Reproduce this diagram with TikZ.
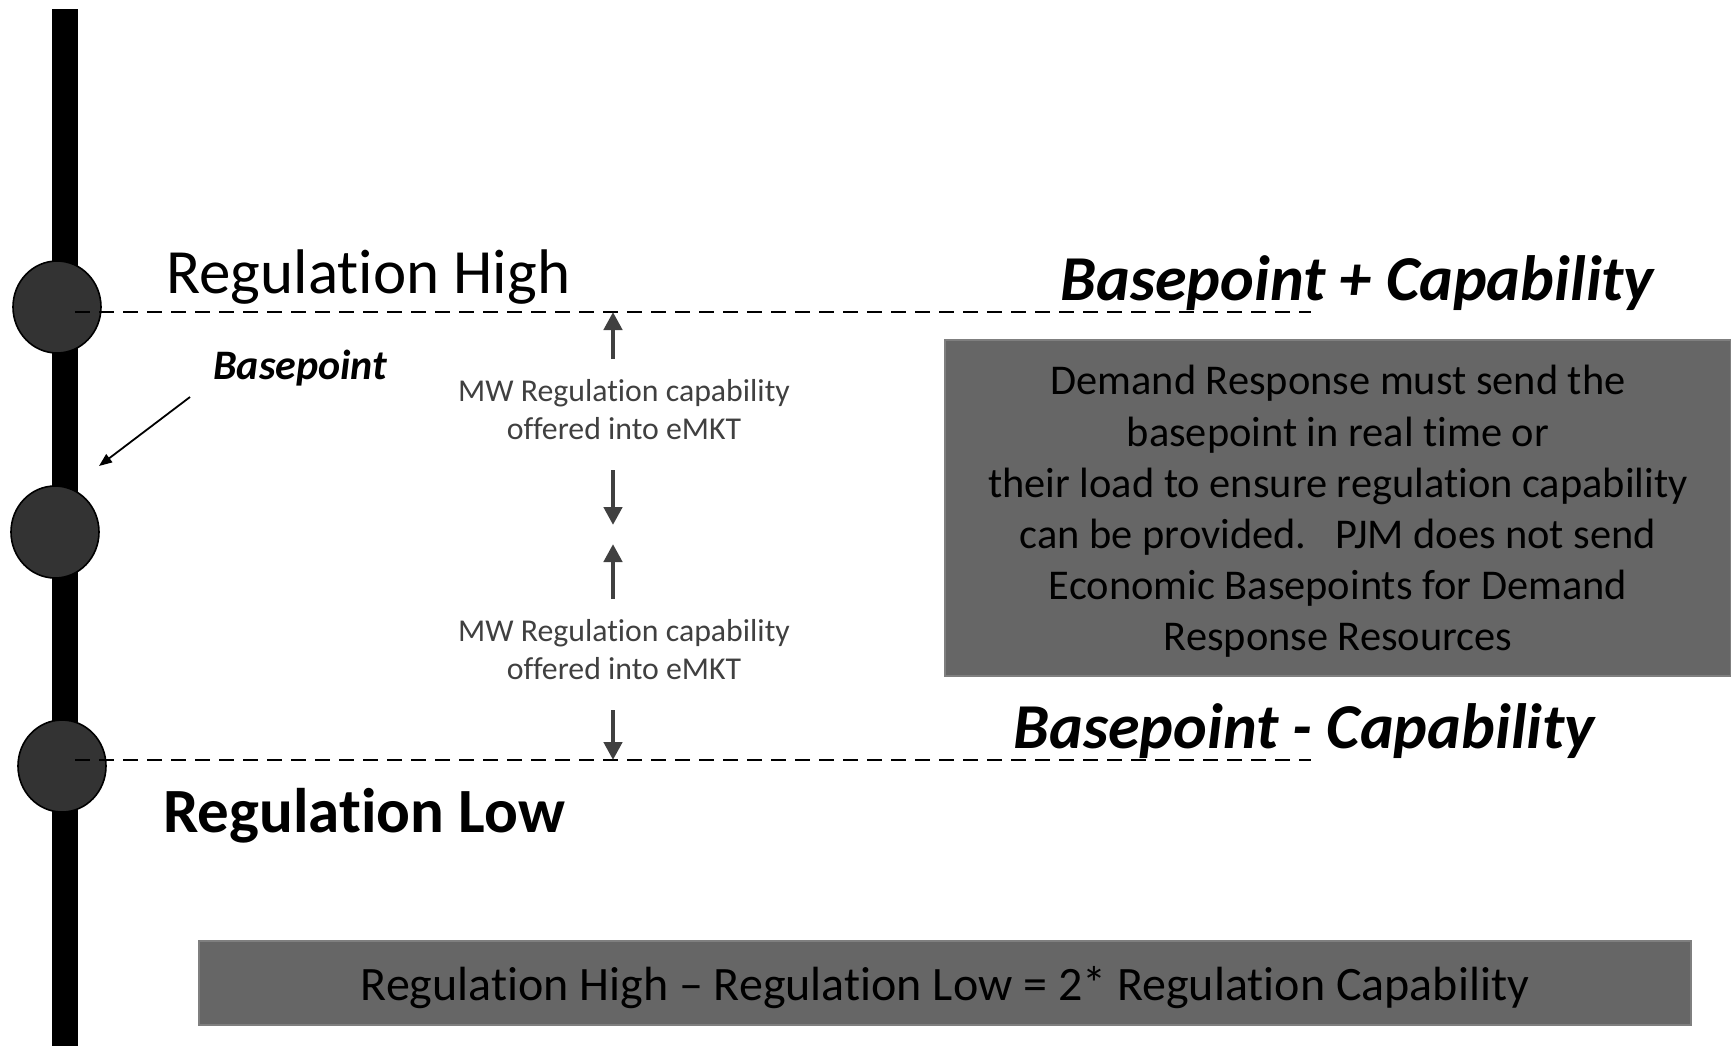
\documentclass[tikz,border=0pt]{standalone}
\usepackage{fontspec}
\setmainfont{Carlito}[Ligatures={CommonOff,RareOff},Contextuals=AlternateOff]
\usetikzlibrary{arrows.meta,shapes.geometric}
\definecolor{boxgrey}{RGB}{102,102,102}
\definecolor{boxedge}{RGB}{127,127,127}
\definecolor{dotgrey}{RGB}{51,51,51}
\definecolor{capgrey}{RGB}{64,64,64}

\begin{document}
\begin{tikzpicture}[x=0.5pt,y=-0.5pt,
  markdot/.style={ellipse,draw=black,line width=0.8pt,fill=dotgrey,minimum width=44pt,minimum height=46pt,inner sep=0pt},
  limitline/.style={line width=1.3pt,dash pattern=on 7.5pt off 4.5pt},
  capnote/.style={align=center,text=capgrey,inner sep=0pt,font=\fontsize{15.9}{19}\selectfont},
  caparrow/.style={capgrey,line width=2.4pt,-{Triangle[length=9pt,width=9pt]}},
  greybox/.style={fill=boxgrey,draw=boxedge,line width=0.8pt,inner sep=0pt},
  boxtext/.style={align=center,inner sep=0pt}]
  \useasboundingbox (0,0) rectangle (1731,1046);
  \fill[black] (52,9) rectangle (78,1046);
  \node[markdot] (hi) at (57,307) {};
  \node[markdot] (base) at (55,532) {};
  \node[markdot] (lo) at (62,766) {};
  \coordinate (hiStart) at (75,312);
  \coordinate (hiEnd) at (1311,312);
  \coordinate (loStart) at (75,760);
  \coordinate (loEnd) at (1311,760);
  \draw[limitline] (hiStart) -- (hiEnd);
  \draw[limitline] (loStart) -- (loEnd);
  \node[anchor=base west,inner sep=0pt,font=\fontsize{31.5}{38}\selectfont] (highlbl) at (166,293) {Regulation High};
  \node[anchor=base west,inner sep=0pt,font=\bfseries\fontsize{31.5}{38}\selectfont] (lowlbl) at (163,832) {Regulation Low};
  \node[anchor=base west,inner sep=0pt,font=\bfseries\itshape\fontsize{32}{38}\selectfont] (pluslbl) at (1060,300) {Basepoint + Capability};
  \node[anchor=base west,inner sep=0pt,font=\bfseries\itshape\fontsize{32}{38}\selectfont] (minuslbl) at (1013,748) {Basepoint - Capability};
  \node[anchor=base west,inner sep=0pt,font=\bfseries\itshape\fontsize{21}{25}\selectfont] (baselbl) at (213,379) {Basepoint};
  \coordinate (ptrTail) at (190,397);
  \coordinate (ptrTip) at (99,466);
  \draw[line width=0.9pt,-{Triangle[length=6.5pt,width=5pt]}] (ptrTail) -- (ptrTip);
  \node[capnote] (upnote) at (624,410) {MW Regulation capability\\offered into eMKT};
  \node[capnote] (downnote) at (624,650) {MW Regulation capability\\offered into eMKT};
  \coordinate (a1) at (613,359);
  \coordinate (a2) at (613,470);
  \coordinate (a3) at (613,599);
  \coordinate (a4) at (613,710);
  \draw[caparrow] (a1) -- (a1 |- hiEnd);
  \draw[caparrow] (a2) -- (613,525);
  \draw[caparrow] (a3) -- (613,544);
  \draw[caparrow] (a4) -- (a4 |- loEnd);
  \node[greybox,minimum width=393pt,minimum height=168pt] (drbox) at (1338,508) {};
  \node[boxtext,font=\fontsize{21.2}{25.6}\selectfont] (drtext) at ([yshift=-1.8pt]drbox.center)
    {Demand Response must send the\\basepoint in real time or\\their load to ensure regulation capability\\can be provided.\ \ \ PJM does not send\\Economic Basepoints for Demand\\Response Resources};
  \node[greybox,minimum width=746pt,minimum height=42pt] (sumbox) at (945,983) {};
  \node[boxtext,font=\fontsize{24}{29}\selectfont] (sumtext) at ([yshift=-2.2pt]sumbox.center)
    {Regulation High – Regulation Low = 2* Regulation Capability};
\end{tikzpicture}
\end{document}
